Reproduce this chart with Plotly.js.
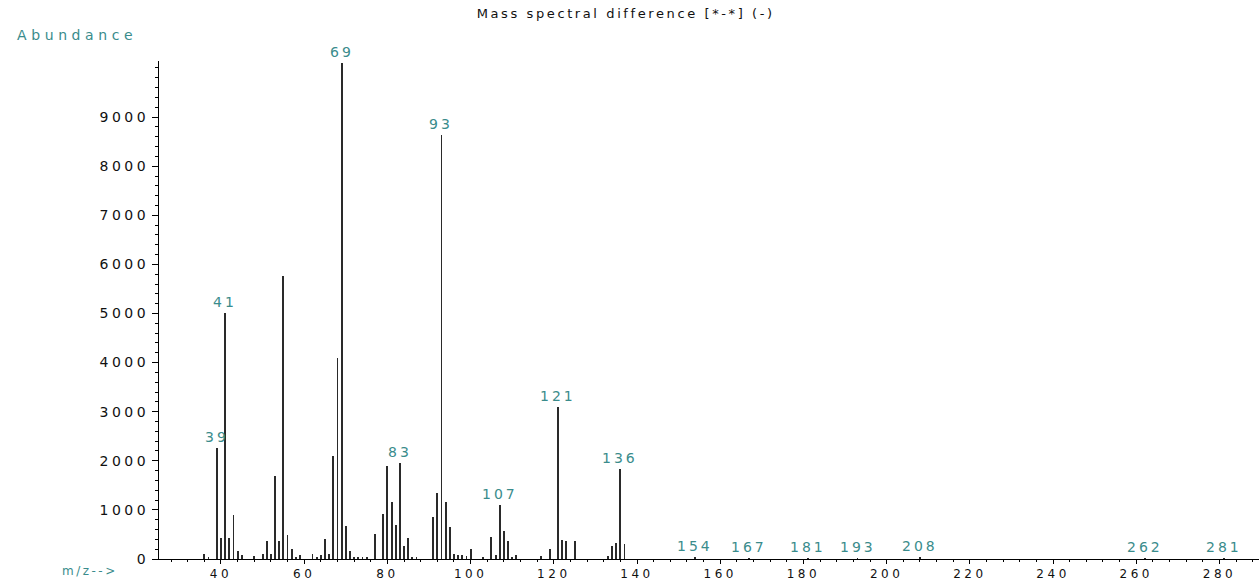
<!DOCTYPE html>
<html>
<head>
<meta charset="utf-8">
<script src="https://cdn.plot.ly/plotly-3.0.1.min.js"></script>
<style>html,body{margin:0;padding:0;background:#fff;}#chart{width:1259px;height:582px;}</style>
</head>
<body>
<div id="chart"></div>
<script>
// m/z values of the peaks
const mz = [36, 37, 39, 40, 41, 42, 43, 44, 45, 48, 50, 51, 52, 53, 54, 55, 56, 57, 58, 59,
  62, 63, 64, 65, 66, 67, 68, 69, 70, 71, 72, 73, 74, 75, 77, 79, 80, 81, 82, 83, 84, 85, 86, 87,
  91, 92, 93, 94, 95, 96, 97, 98, 99, 100, 103, 105, 106, 107, 108, 109, 110, 111, 117, 119,
  121, 122, 123, 125, 133, 134, 135, 136, 137, 154, 167, 181, 193, 208, 262, 281];
// abundance of each peak
const abundance = [100, 50, 2260, 430, 5000, 430, 900, 160, 80, 60, 100, 370, 110, 1690, 370, 5770, 495, 210, 40, 90,
  100, 50, 80, 400, 100, 2090, 4100, 10100, 670, 160, 50, 40, 40, 40, 510, 910, 1900, 1170, 700, 1950, 260, 420, 40, 40,
  850, 1340, 8640, 1160, 660, 100, 90, 80, 60, 210, 40, 440, 80, 1100, 580, 360, 50, 90, 60, 210,
  3090, 390, 360, 370, 60, 265, 325, 1830, 310, 40, 30, 30, 30, 40, 30, 30];
// peaks that carry a label
const labelledPeaks = [39, 41, 69, 83, 93, 107, 121, 136, 154, 167, 181, 193, 208, 262, 281];
// axis tick values
const xTicks = [40, 60, 80, 100, 120, 140, 160, 180, 200, 220, 240, 260, 280];
const yTicks = [0, 1000, 2000, 3000, 4000, 5000, 6000, 7000, 8000, 9000];

const chartTitle = 'Mass spectral difference [*-*] (-)';
const yName = 'Abundance';
const xName = 'm/z-->';

const FONT = 'DejaVu Sans, Verdana, sans-serif';
const TEAL = '#3a8c8c';
const wide = (t, ls) => '<span style="letter-spacing:' + ls + 'px">' + t + '</span>';

const trace = {
  type: 'bar',
  x: mz,
  y: abundance,
  width: 0.45,
  marker: {color: '#2a2a2a', line: {width: 0}},
  hoverinfo: 'x+y'
};

const annotations = labelledPeaks.map(p => ({
  x: p, y: abundance[mz.indexOf(p)], xref: 'x', yref: 'y',
  text: wide(String(p), 3), showarrow: false, yanchor: 'bottom', xanchor: 'center',
  yshift: 1, font: {family: FONT, size: 14, color: TEAL}
}));
annotations.push({
  x: -0.131, y: 1.052, xref: 'paper', yref: 'paper', xanchor: 'left', yanchor: 'middle',
  text: wide(yName, 4.6), showarrow: false, font: {family: FONT, size: 14, color: TEAL}
});
annotations.push({
  x: -0.09, y: -0.024, xref: 'paper', yref: 'paper', xanchor: 'left', yanchor: 'middle',
  text: wide(xName, 2.5), showarrow: false, font: {family: FONT, size: 12, color: TEAL}
});

const layout = {
  width: 1259, height: 582,
  margin: {l: 159, r: 0, t: 61, b: 23},
  paper_bgcolor: '#fff', plot_bgcolor: '#fff',
  showlegend: false,
  font: {family: FONT, size: 14, color: '#111'},
  title: {text: wide(chartTitle, 2.6), x: 0.497, xanchor: 'center', y: 0.977, yanchor: 'middle',
          font: {family: FONT, size: 13, color: '#111'}},
  xaxis: {
    range: [25.1, 289.5], showgrid: false, zeroline: false,
    showline: true, linecolor: '#000', linewidth: 1,
    tickmode: 'array', tickvals: xTicks, ticktext: xTicks.map(v => wide(v, 3.5)),
    ticks: 'outside', ticklen: 4, tickcolor: '#000', tickwidth: 1,
    minor: {dtick: 4, tick0: 0, ticks: 'outside', ticklen: 2, tickcolor: '#000', showgrid: false},
    tickfont: {family: FONT, size: 12, color: '#111'},
    ticklabelstandoff: 0
  },
  yaxis: {
    range: [0, 10142], showgrid: false, zeroline: false,
    showline: true, linecolor: '#000', linewidth: 1,
    tickmode: 'array', tickvals: yTicks, ticktext: yTicks.map(v => wide(v, 3.5)),
    ticks: 'outside', ticklen: 6, tickcolor: '#000', tickwidth: 1,
    minor: {dtick: 200, tick0: 0, ticks: 'outside', ticklen: 3, tickcolor: '#000', showgrid: false},
    tickfont: {family: FONT, size: 14, color: '#111'}
  },
  annotations: annotations,
  bargap: 0
};

Plotly.newPlot('chart', [trace], layout, {displayModeBar: false, staticPlot: true});
</script>
</body>
</html>
